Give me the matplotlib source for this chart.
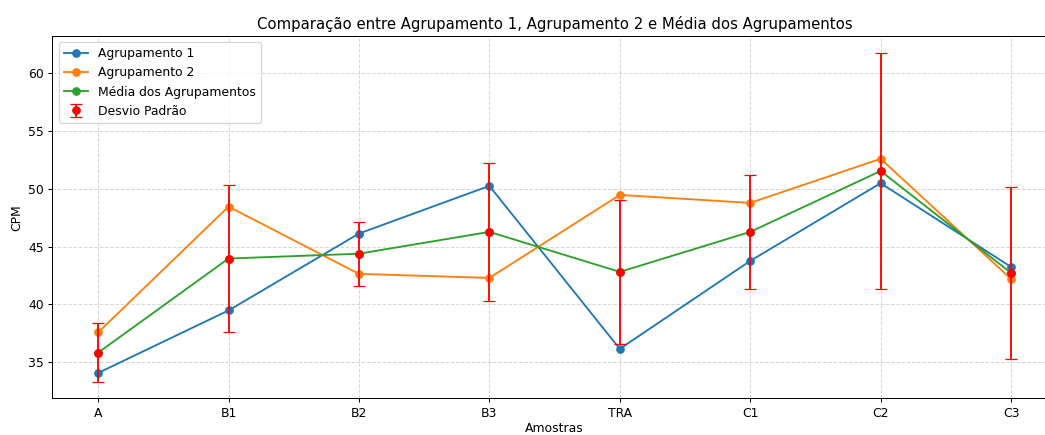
import matplotlib.pyplot as plt
import numpy as np

amostras = ['A', 'B1', 'B2', 'B3', 'TRA', 'C1', 'C2', 'C3']
agrupamento1 = [34.08, 39.48, 46.12, 50.24, 36.16, 43.76, 50.47, 43.24]
agrupamento2 = [37.58, 48.45, 42.64, 42.29, 49.46, 48.77, 52.58, 42.20]
desvio = [2.53, 6.39, 2.75, 5.93, 6.23, 4.90, 10.23, 7.42]

media = (np.array(agrupamento1) + np.array(agrupamento2)) / 2

dpi = 89
fig, ax = plt.subplots(figsize=(1045 / dpi, 435 / dpi), dpi=dpi)
ax.plot(amostras, agrupamento1, marker='o', label='Agrupamento 1')
ax.plot(amostras, agrupamento2, marker='o', label='Agrupamento 2')
ax.plot(amostras, media, marker='o', label='Média dos Agrupamentos')
ax.errorbar(amostras, media, yerr=desvio, fmt='o', color='red', capsize=5,
            label='Desvio Padrão')

ax.set_title('Comparação entre Agrupamento 1, Agrupamento 2 e Média dos Agrupamentos')
ax.set_xlabel('Amostras', labelpad=1.5)
ax.set_ylabel('CPM')
ax.legend(loc='upper left')
ax.grid(True, linestyle='--', alpha=0.5)
# the right spine sits just past the edge of the saved image
fig.subplots_adjust(left=0.0502, right=1.0112, top=0.917, bottom=0.084)
fig.savefig('out.png')
